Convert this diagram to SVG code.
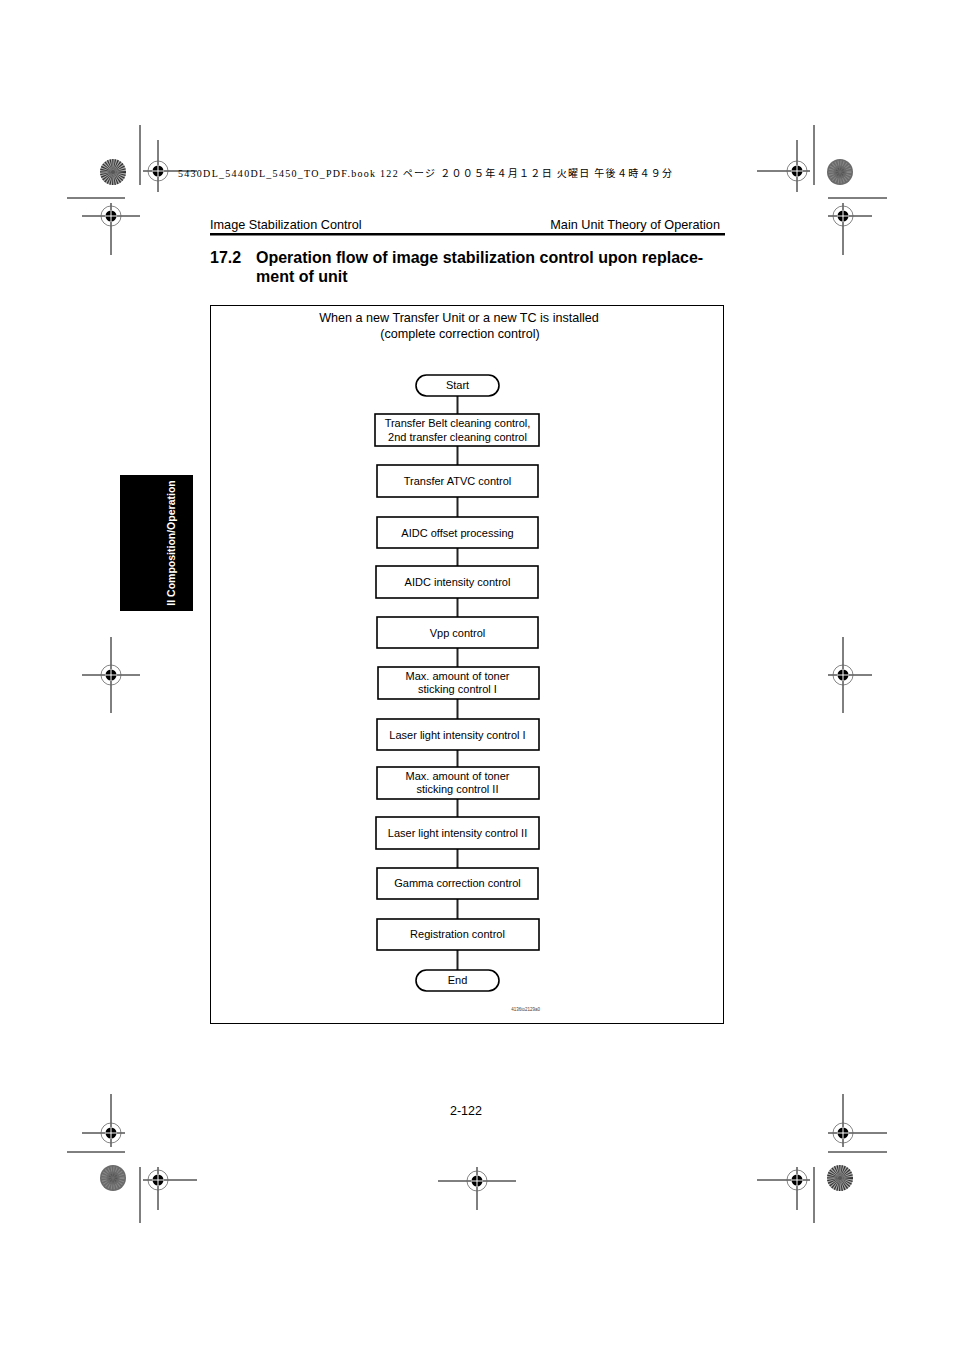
<svg xmlns="http://www.w3.org/2000/svg" width="954" height="1351" viewBox="0 0 954 1351">
<defs>
<style>
.t{font-family:"Liberation Sans",Arial,sans-serif;fill:#000}
.fc{font-size:11px;text-anchor:middle}
.box{fill:#fff;stroke:#000;stroke-width:1.6}
.conn{stroke:#222;stroke-width:2;fill:none}
.cm{stroke:#000;stroke-width:1;fill:none}
</style>
<g id="tgt">
<circle r="10" fill="none" stroke="#666" stroke-width="0.8"/>
<circle r="5.5" fill="#000"/>
<path d="M-6 0H6M0 -6V6" stroke="#fff" stroke-width="1"/>
</g>
<g id="burst">
<circle r="13" fill="#aaa"/>
<circle r="6.5" fill="none" stroke="#333" stroke-width="13" stroke-dasharray="0.7 0.7"/>
<circle r="2" fill="#555"/>
</g>
<g id="speck">
<circle r="13" fill="#6a6a6a"/>
<circle r="9" fill="none" stroke="#888" stroke-width="5" stroke-dasharray="1 1.5"/>
<circle r="3" fill="none" stroke="#555" stroke-width="3" stroke-dasharray="1 1"/>
</g>
</defs>
<rect width="954" height="1351" fill="#fff"/>

<g id="cropmarks">
<use href="#burst" x="113" y="172"/>
<path class="cm" d="M140 125V185M143 171H197M158 140V192"/>
<use href="#tgt" x="158" y="171"/>
<path class="cm" d="M67 198H125M82 216H140M111 203V255"/>
<use href="#tgt" x="111" y="216"/>
<use href="#speck" x="840" y="172"/>
<path class="cm" d="M814 125V185M757 171H810M797 140V192"/>
<use href="#tgt" x="797" y="171"/>
<path class="cm" d="M828 198H887M828 216H872M843 203V255"/>
<use href="#tgt" x="843" y="216"/>
<path class="cm" d="M82 675H140M111 637V713"/>
<use href="#tgt" x="111" y="675"/>
<path class="cm" d="M828 675H872M843 637V713"/>
<use href="#tgt" x="843" y="675"/>
<path class="cm" d="M82 1133H125M111 1094V1147M67 1152H125"/>
<use href="#tgt" x="111" y="1133"/>
<use href="#speck" x="113" y="1178"/>
<path class="cm" d="M140 1167V1223M143 1180H197M158 1167V1210"/>
<use href="#tgt" x="158" y="1180"/>
<path class="cm" d="M438 1181H516M477 1167V1210"/>
<use href="#tgt" x="477" y="1181"/>
<path class="cm" d="M828 1133H887M843 1094V1147M828 1152H887"/>
<use href="#tgt" x="843" y="1133"/>
<use href="#burst" x="840" y="1178"/>
<path class="cm" d="M814 1167V1223M757 1180H810M797 1167V1210"/>
<use href="#tgt" x="797" y="1180"/>
</g>

<text x="178" y="177" font-family="'Liberation Serif','Noto Sans CJK JP',serif" font-size="10" textLength="494" lengthAdjust="spacing">5430DL_5440DL_5450_TO_PDF.book  122 ページ  ２００５年４月１２日  火曜日  午後４時４９分</text>

<g id="header">
<text class="t" x="210" y="229" font-size="12.7">Image Stabilization Control</text>
<text class="t" x="720" y="229" font-size="12.7" text-anchor="end">Main Unit Theory of Operation</text>
<rect x="210" y="233" width="515" height="2.5" fill="#000"/>
</g>

<g id="heading">
<text class="t" x="210" y="263" font-size="16" font-weight="bold">17.2</text>
<text class="t" x="256" y="263" font-size="16" font-weight="bold">Operation flow of image stabilization control upon replace-</text>
<text class="t" x="256" y="282" font-size="16" font-weight="bold">ment of unit</text>
</g>

<g id="sidetab">
<rect x="120" y="475" width="73" height="136" fill="#000"/>
<text class="t" transform="translate(175 543) rotate(-90)" font-size="10.5" font-weight="bold" text-anchor="middle" style="fill:#fff">II Composition/Operation</text>
</g>

<rect x="210.5" y="305.5" width="513" height="718" fill="none" stroke="#000" stroke-width="1"/>
<text class="t" x="459" y="322" font-size="12.6" text-anchor="middle">When a new Transfer Unit or a new TC is installed</text>
<text class="t" x="460" y="338" font-size="12.6" text-anchor="middle">(complete correction control)</text>

<g id="connectors">
<path class="conn" d="M457.5 396V414M457.5 446V465M457.5 497V517M457.5 548V566M457.5 598V617M457.5 648V667M457.5 699V719M457.5 750V767M457.5 799V817M457.5 849V868M457.5 899V919M457.5 950V970"/>
</g>

<g id="n-start"><rect class="box" x="416" y="375" width="83" height="21" rx="10.5"/><text class="t fc" x="457.5" y="389">Start</text></g>
<g id="n1"><rect class="box" x="375" y="414" width="164" height="32"/><text class="t fc" x="457.5" y="427">Transfer Belt cleaning control,</text><text class="t fc" x="457.5" y="441">2nd transfer cleaning control</text></g>
<g id="n2"><rect class="box" x="377" y="465" width="161" height="32"/><text class="t fc" x="457.5" y="485">Transfer ATVC control</text></g>
<g id="n3"><rect class="box" x="377" y="517" width="161" height="31"/><text class="t fc" x="457.5" y="537">AIDC offset processing</text></g>
<g id="n4"><rect class="box" x="376" y="566" width="162" height="32"/><text class="t fc" x="457.5" y="586">AIDC intensity control</text></g>
<g id="n5"><rect class="box" x="377" y="617" width="161" height="31"/><text class="t fc" x="457.5" y="637">Vpp control</text></g>
<g id="n6"><rect class="box" x="378" y="667" width="161" height="32"/><text class="t fc" x="457.5" y="680">Max. amount of toner</text><text class="t fc" x="457.5" y="693">sticking control I</text></g>
<g id="n7"><rect class="box" x="377" y="719" width="162" height="31"/><text class="t fc" x="457.5" y="739">Laser light intensity control I</text></g>
<g id="n8"><rect class="box" x="377" y="767" width="162" height="32"/><text class="t fc" x="457.5" y="780">Max. amount of toner</text><text class="t fc" x="457.5" y="793">sticking control II</text></g>
<g id="n9"><rect class="box" x="376" y="817" width="163" height="32"/><text class="t fc" x="457.5" y="837">Laser light intensity control II</text></g>
<g id="n10"><rect class="box" x="377" y="868" width="161" height="31"/><text class="t fc" x="457.5" y="887">Gamma correction control</text></g>
<g id="n11"><rect class="box" x="377" y="919" width="162" height="31"/><text class="t fc" x="457.5" y="938">Registration control</text></g>
<g id="n-end"><rect class="box" x="416" y="970" width="83" height="21" rx="10.5"/><text class="t fc" x="457.5" y="984">End</text></g>

<text class="t" x="540" y="1011" font-size="4.5" text-anchor="end" style="fill:#444">4136to2129a0</text>

<text class="t" x="466" y="1115" font-size="12.5" text-anchor="middle">2-122</text>
</svg>
